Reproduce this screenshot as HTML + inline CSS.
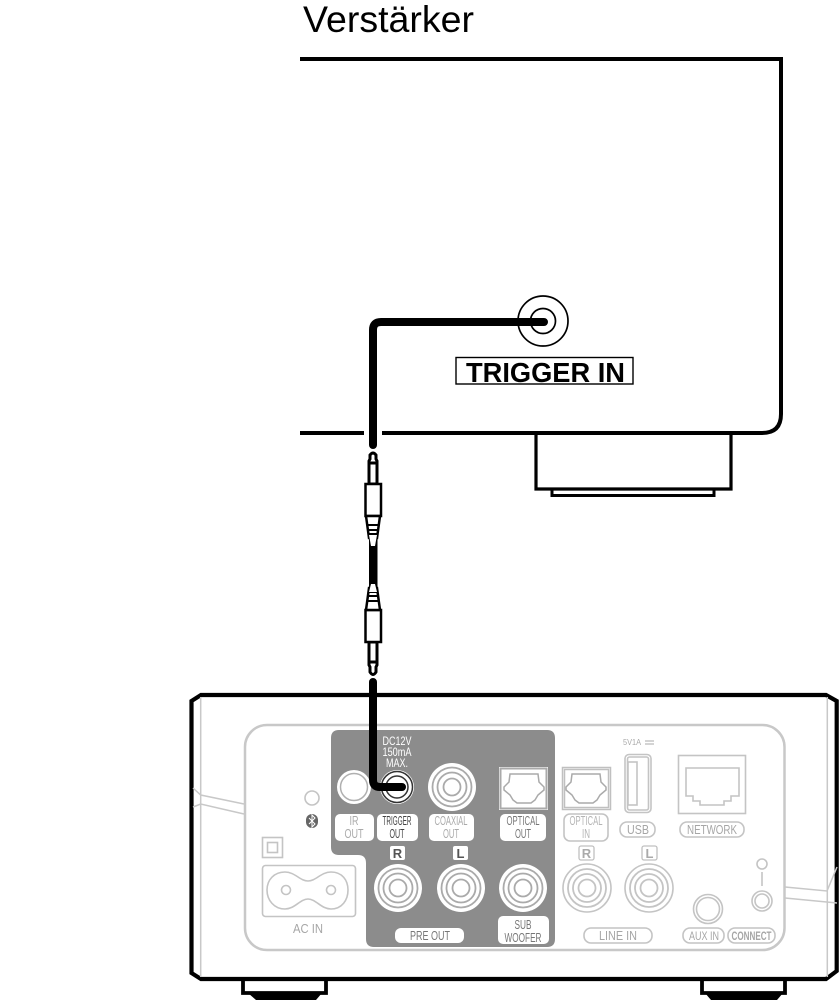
<!DOCTYPE html>
<html><head><meta charset="utf-8"><style>html,body{margin:0;padding:0;background:#fff}svg{display:block}
text{font-family:"Liberation Sans",sans-serif}
.w{font-size:12px;fill:#fff}
.g{font-size:13px;fill:#aaa;text-anchor:middle}
.d{font-size:13px;fill:#444;text-anchor:middle}
.p{font-size:13px;fill:#a6a6a6;text-anchor:middle}
.l{fill:none;stroke:#c4c4c4;stroke-width:1.6}
.k{fill:none;stroke:#000}
</style></head><body>
<svg width="839" height="1000" viewBox="0 0 839 1000" xmlns="http://www.w3.org/2000/svg">
<defs>
<g id="rca"><circle r="24" fill="#fff"/><g fill="none" stroke="#aaa" stroke-width="1.800"><circle r="19.500"/><circle r="14.500"/><circle r="8.500"/></g></g>
<g id="rcal"><circle r="24" fill="#fff" stroke="#c4c4c4" stroke-width="1.600"/><g fill="none" stroke="#c4c4c4" stroke-width="1.800"><circle r="19"/><circle r="14"/><circle r="8.500"/></g></g>
<path id="opt" d="M-14,-14H14L15,-6L20,-1L20,2L14,7L11,12L7,15H-7L-11,12L-14,7L-20,2L-20,-1L-15,-6Z" fill="none" stroke="#aaa" stroke-width="1.500"/>
</defs>

<text x="303" y="32" font-size="37.500" fill="#000" textLength="171" lengthAdjust="spacingAndGlyphs">Verstärker</text>
<path class="k" stroke-width="4" d="M300,59H781V414Q781,433 762,433H382M364,433H300"/>
<path class="k" stroke-width="3.200" d="M536,433V489H731V433"/>
<path class="k" stroke-width="3" d="M552,490V495.500H714V490"/>
<circle class="k" cx="543" cy="321" r="25" stroke-width="1.700"/>
<circle class="k" cx="543" cy="321" r="12.500" stroke-width="1.700"/>
<path class="k" stroke-width="8" stroke-linecap="round" d="M373,445V330Q373,322 381,322H544"/>
<rect x="456" y="357.500" width="177" height="26.500" fill="#fff" stroke="#000" stroke-width="1.400"/>
<text x="466" y="382" font-size="28" font-weight="bold" fill="#000" textLength="159" lengthAdjust="spacingAndGlyphs">TRIGGER IN</text>

<!-- plugs -->
<g fill="#fff" stroke="#000" stroke-width="3">
<path d="M369,484V461L370,459V455Q373,451 376,455V459L377,461V484Z"/>
<path d="M369,463H377" fill="none"/>
<path d="M369,642V665L370,667V672Q373,677 376,672V667L377,665V642Z"/>
<path d="M369,662H377" fill="none"/>
</g>
<g fill="#fff" stroke="#000" stroke-width="2.500">
<rect x="365.500" y="484" width="15.500" height="32"/>
<path d="M366,516L369,538H377L380,516Z"/>
<rect x="365.500" y="610" width="15.500" height="32"/>
<path d="M366,610L369,588H377L380,610Z"/>
</g>
<rect x="368" y="524" width="10" height="2" fill="#000"/>
<rect x="368" y="529" width="10" height="2" fill="#000"/>
<rect x="368" y="595" width="10" height="2" fill="#000"/>
<rect x="368" y="600" width="10" height="2" fill="#000"/>
<rect x="369" y="533" width="8.500" height="60" fill="#000"/>
<path d="M369,535H377L375,546H371Z" fill="#fff"/>
<path d="M371,584H375L377,592H369Z" fill="#fff"/>

<!-- main unit -->
<path class="k" stroke-width="4.200" d="M201,695H826L836.700,701V971L826,979H201L191.500,973V701Z"/>
<path d="M200.700,697V977M827.300,697V977" fill="none" stroke="#c8c8c8" stroke-width="1.500"/>
<path d="M193,788L200.700,795L244,804M193,807L200.700,804L244,814M785,887L827,891L837,867M785,898L837,903" fill="none" stroke="#c8c8c8" stroke-width="1.500"/>
<path class="k" stroke-width="3.800" d="M243,981V993H326V981M702,981V993H785V981"/>
<path d="M248,993H322L316,1000H256ZM705,993H783L777,1000H711Z" fill="#000"/>

<rect x="245" y="725" width="539.500" height="225" rx="22" fill="#fff" stroke="#c8c8c8" stroke-width="2.500"/>
<path d="M339,730H547Q555,730 555,738V939Q555,947 547,947H374Q366,947 366,939V863Q366,855 358,855H339Q331,855 331,847V738Q331,730 339,730Z" fill="#8c8c8c"/>

<!-- left area -->
<circle class="l" cx="312" cy="798" r="7"/>
<rect x="306" y="814" width="12" height="14" rx="6" fill="#666"/>
<path d="M309,818L315,824L312,827V815L315,818L309,824" fill="none" stroke="#fff" stroke-width="1"/>
<rect class="l" x="262.500" y="837.500" width="20" height="20"/>
<rect class="l" x="267.500" y="842.500" width="10" height="10"/>
<rect class="l" x="262.500" y="865.500" width="93" height="51" rx="3"/>
<path class="l" d="M285,872C295,872 300,881 308,881C316,881 321,872 331,872C342,872 348,880 348,890C348,900 342,909 331,909C321,909 316,899 308,899C300,899 295,909 285,909C274,909 267,900 267,890C267,880 274,872 285,872Z"/>
<circle class="l" cx="286" cy="890" r="4.500"/>
<circle class="l" cx="331" cy="890" r="4.500"/>
<text class="p" x="308" y="933" textLength="30" lengthAdjust="spacingAndGlyphs">AC IN</text>

<!-- panel text and connectors -->
<text class="w" x="397" y="745" text-anchor="middle" textLength="29" lengthAdjust="spacingAndGlyphs">DC12V</text>
<text class="w" x="397" y="756" text-anchor="middle" textLength="29" lengthAdjust="spacingAndGlyphs">150mA</text>
<text class="w" x="397" y="767" text-anchor="middle" textLength="22" lengthAdjust="spacingAndGlyphs">MAX.</text>

<circle cx="354" cy="787" r="17" fill="#fff"/><circle cx="354" cy="787" r="13.500" fill="none" stroke="#b0b0b0" stroke-width="1.500"/>
<circle cx="397" cy="787" r="17" fill="#fff"/><circle cx="397" cy="787" r="15.500" fill="#fff" stroke="#333" stroke-width="1.500"/><circle cx="397" cy="787" r="11" fill="#fff" stroke="#333" stroke-width="1.500"/>
<use href="#rca" x="452" y="787"/>
<rect x="499" y="767" width="49" height="43" fill="#fff"/>
<rect x="500.500" y="768.500" width="46" height="40" fill="none" stroke="#aaa" stroke-width="2"/>
<use href="#opt" x="524" y="788"/>

<rect x="335" y="814" width="39" height="27" rx="5" fill="#fff"/>
<text class="g" x="354" y="825" textLength="9" lengthAdjust="spacingAndGlyphs">IR</text>
<text class="g" x="354" y="838" textLength="19" lengthAdjust="spacingAndGlyphs">OUT</text>
<rect x="377" y="814" width="41" height="27" rx="5" fill="#fff"/>
<text class="d" x="397" y="825" textLength="29" lengthAdjust="spacingAndGlyphs">TRIGGER</text>
<text class="d" x="397" y="838" textLength="15" lengthAdjust="spacingAndGlyphs">OUT</text>
<rect x="429" y="814" width="45" height="27" rx="5" fill="#fff"/>
<text class="g" x="451" y="825" textLength="33" lengthAdjust="spacingAndGlyphs">COAXIAL</text>
<text class="g" x="451" y="838" textLength="16" lengthAdjust="spacingAndGlyphs">OUT</text>
<rect x="500" y="814" width="46" height="27" rx="5" fill="#fff"/>
<text class="d" x="523" y="825" style="fill:#777" textLength="33" lengthAdjust="spacingAndGlyphs">OPTICAL</text>
<text class="d" x="523" y="838" style="fill:#777" textLength="16" lengthAdjust="spacingAndGlyphs">OUT</text>

<rect x="390" y="846" width="15" height="14" rx="2" fill="#fff"/>
<text x="397.500" y="858" font-size="13" font-weight="bold" fill="#555" text-anchor="middle">R</text>
<rect x="453" y="846" width="15" height="14" rx="2" fill="#fff"/>
<text x="460.500" y="858" font-size="13" font-weight="bold" fill="#555" text-anchor="middle">L</text>
<use href="#rca" x="398" y="888"/>
<use href="#rca" x="461" y="888"/>
<use href="#rca" x="523" y="888"/>
<rect x="395" y="928" width="69" height="15" rx="6" fill="#fff"/>
<text class="d" x="430" y="940" style="fill:#777" textLength="40" lengthAdjust="spacingAndGlyphs">PRE OUT</text>
<rect x="498" y="916" width="51" height="28" rx="5" fill="#fff"/>
<text class="d" x="523" y="929" style="fill:#777" textLength="17" lengthAdjust="spacingAndGlyphs">SUB</text>
<text class="d" x="523" y="942" style="fill:#777" textLength="37" lengthAdjust="spacingAndGlyphs">WOOFER</text>

<!-- right area -->
<rect x="562.500" y="767.500" width="48" height="42" fill="none" stroke="#c0c0c0" stroke-width="1.500"/>
<rect x="564.500" y="769.500" width="44" height="38" fill="none" stroke="#c0c0c0" stroke-width="1.500"/>
<use href="#opt" x="586" y="788"/>
<rect class="l" x="564" y="814" width="44" height="27" rx="6"/>
<text class="p" x="586" y="825" style="fill:#b4b4b4" textLength="33" lengthAdjust="spacingAndGlyphs">OPTICAL</text>
<text class="p" x="586" y="838" style="fill:#b4b4b4" textLength="8" lengthAdjust="spacingAndGlyphs">IN</text>
<text x="623" y="745" font-size="8" fill="#aaa" textLength="18" lengthAdjust="spacingAndGlyphs">5V1A</text>
<path d="M645,741H654M645,744H654" stroke="#aaa" stroke-width="1" fill="none"/>
<rect class="l" x="625" y="754.500" width="26" height="58" rx="4"/>
<rect class="l" x="627.500" y="757" width="21" height="53" rx="2"/>
<rect class="l" x="628" y="762" width="9" height="43"/>
<rect class="l" x="620" y="822" width="35" height="15" rx="7"/>
<text class="p" x="638" y="834" textLength="22" lengthAdjust="spacingAndGlyphs">USB</text>
<rect class="l" x="678.500" y="755.500" width="67" height="58"/>
<path class="l" d="M686,768H739V796H731V801H724V805H700V801H693V796H686Z"/>
<rect class="l" x="680" y="822" width="64" height="15" rx="7"/>
<text class="p" x="712" y="834" textLength="50" lengthAdjust="spacingAndGlyphs">NETWORK</text>

<rect x="579" y="846" width="15" height="14" rx="2" fill="#fff" stroke="#c0c0c0" stroke-width="1.300"/>
<text x="586.500" y="858" font-size="13" font-weight="bold" fill="#aaa" text-anchor="middle">R</text>
<rect x="642" y="846" width="15" height="14" rx="2" fill="#fff" stroke="#c0c0c0" stroke-width="1.300"/>
<text x="649.500" y="858" font-size="13" font-weight="bold" fill="#aaa" text-anchor="middle">L</text>
<use href="#rcal" x="587" y="888"/>
<use href="#rcal" x="649" y="888"/>
<rect class="l" x="584" y="928" width="68" height="15" rx="7"/>
<text class="p" x="618" y="940" textLength="38" lengthAdjust="spacingAndGlyphs">LINE IN</text>
<circle class="l" cx="708" cy="909" r="14.500"/>
<circle class="l" cx="708" cy="909" r="11.500"/>
<rect class="l" x="683" y="928" width="41" height="15" rx="7"/>
<text class="p" x="704" y="940" style="font-size:12px" textLength="30" lengthAdjust="spacingAndGlyphs">AUX IN</text>
<rect class="l" x="728" y="928" width="47" height="15" rx="7"/>
<text class="p" x="751.500" y="940" style="font-size:12px;font-weight:bold" textLength="40" lengthAdjust="spacingAndGlyphs">CONNECT</text>
<circle class="l" cx="762" cy="864" r="5"/>
<path class="l" d="M762,872V886"/>
<circle class="l" cx="762" cy="901" r="10"/>
<circle class="l" cx="762" cy="901" r="7"/>

<path class="k" stroke-width="8" stroke-linecap="round" d="M373,682V780Q373,787 380,787H402"/>
</svg>
</body></html>
